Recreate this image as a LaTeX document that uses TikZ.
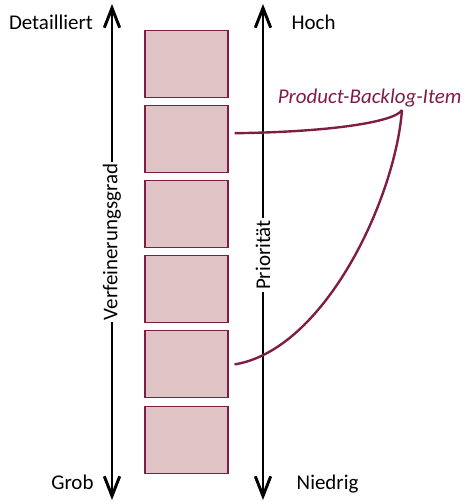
\documentclass[tikz,border=0pt]{standalone}
\usepackage{fontspec}
\setmainfont{Carlito}
\usepackage{xcolor}
\usetikzlibrary{
	arrows.meta,
	shapes,
}
\definecolor{itemfill}{HTML}{DFC3C5}
\definecolor{itemred}{HTML}{7F1D45}

\begin{document}
\begin{tikzpicture}[
        font=\fontsize{14.9}{17}\selectfont,
        axis/.style={line width=2.1pt, {Straight Barb[length=14pt,width=11pt]}-{Straight Barb[length=14pt,width=11pt]}},
        axislabel/.style={rotate=90, fill=white, inner sep=1.5pt},
        item/.style={draw=itemred, fill=itemfill, line width=0.8pt, minimum width=2.075cm, minimum height=1.675cm, inner sep=0pt},
        pointer/.style={draw=itemred, line width=1.7pt},
    ]
            \useasboundingbox (0,0) rectangle (11.6,-12.55);

            % the two axes
            \coordinate (vtop) at (2.8,-0.1);
            \coordinate (vbot) at (2.8,-12.5);
            \coordinate (ptop) at (6.575,-0.1);
            \coordinate (pbot) at (6.575,-12.5);
            \draw[axis] (vbot) -- (vtop);
            \draw[axis] (pbot) -- (ptop);
            \node[axislabel] (grad) at (2.8,-6.05) {Verfeinerungsgrad};
            \node[axislabel] (prio) at (6.575,-6.375) {Priorität};

            \node[anchor=base] (detail) at (1.275,-0.725) {Detailliert};
            \node[anchor=base] (grob)   at (1.81,-12.225) {Grob};
            \node[anchor=base] (hoch)   at (7.84,-0.725) {Hoch};
            \node[anchor=base] (niedrig) at (8.19,-12.225) {Niedrig};

            % backlog items
            \node[item] (b1) at (4.6625,-1.59) {};
            \node[item] (b2) at (4.6625,-3.47) {};
            \node[item] (b3) at (4.6625,-5.35) {};
            \node[item] (b4) at (4.6625,-7.23) {};
            \node[item] (b5) at (4.6625,-9.11) {};
            \node[item] (b6) at (4.6625,-10.99) {};

            % label with its two pointers
            \node[anchor=base, text=itemred, font=\fontsize{14.9}{17}\selectfont\itshape] (pbi) at (9.24,-2.575) {Product-Backlog-Item};
            \coordinate (join) at (10.05,-2.75);
            \draw[pointer] ([shift={(0.15,0.14)}]b2.east) .. controls (8.25,-3.3) and (9.875,-3.05) .. (join);
            \draw[pointer] ([xshift=0.15cm]b5.east) .. controls (8.1,-8.75) and (9.875,-5) .. (join);
	\end{tikzpicture}
\end{document}
